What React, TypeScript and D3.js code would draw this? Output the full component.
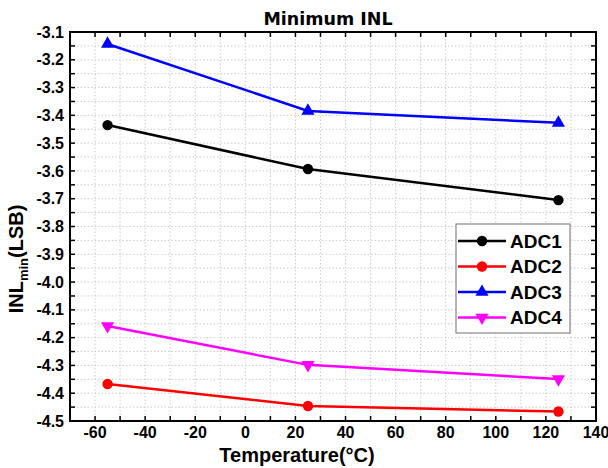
import React, { useEffect, useRef } from 'react';
import * as d3 from 'd3';

// Temperatures (°C) and minimum INL values (LSB)
const temperatures = [-55, 25, 125];
const adc1 = [-3.435, -3.593, -3.705];
const adc2 = [-4.367, -4.446, -4.466];
const adc3 = [-3.143, -3.384, -3.427];
const adc4 = [-4.158, -4.298, -4.349];

const seriesNames = ['ADC1', 'ADC2', 'ADC3', 'ADC4'];
const seriesColors = ['#000000', '#ff0000', '#0000ff', '#ff00ff'];
const seriesMarkers = ['circle', 'circle', 'triangleUp', 'triangleDown'];

const xTicks = [-60, -40, -20, 0, 20, 40, 60, 80, 100, 120, 140];
const yTicks = [-3.1, -3.2, -3.3, -3.4, -3.5, -3.6, -3.7, -3.8, -3.9, -4.0, -4.1, -4.2, -4.3, -4.4, -4.5];

const FONT = '"Liberation Sans", Arial, sans-serif';

// d3.format uses a unicode minus; the original uses a plain hyphen
const hyphen = (s: string) => s.replace('\u2212', '-');

export default function App() {
  const svgRef = useRef<SVGSVGElement>(null);

  useEffect(() => {
    if (!svgRef.current) return;
    const width = 608;
    const height = 468;
    const margin = { top: 32, right: 12, bottom: 47, left: 70 };
    const innerWidth = width - margin.left - margin.right;
    const innerHeight = height - margin.top - margin.bottom;

    const svg = d3.select(svgRef.current);
    svg.selectAll('*').remove();

    const g = svg.append('g').attr('transform', `translate(${margin.left},${margin.top})`);

    const xScale = d3.scaleLinear().domain([-70, 140]).range([0, innerWidth]);
    const yScale = d3.scaleLinear().domain([-4.5, -3.1]).range([innerHeight, 0]);

    // Dotted grid
    const xGrid = d3.range(-60, 140, 10);
    const yGrid = d3.range(0, 28).map(i => -3.1 - (i + 1) * 0.05).filter(v => v > -4.49);
    g.append('g').selectAll('line').data(xGrid).enter().append('line')
      .attr('x1', d => xScale(d)).attr('x2', d => xScale(d))
      .attr('y1', 0).attr('y2', innerHeight)
      .attr('stroke', '#cccccc').attr('stroke-width', 1).attr('stroke-dasharray', '1.5,2');
    g.append('g').selectAll('line').data(yGrid).enter().append('line')
      .attr('x1', 0).attr('x2', innerWidth)
      .attr('y1', d => yScale(d)).attr('y2', d => yScale(d))
      .attr('stroke', '#cccccc').attr('stroke-width', 1).attr('stroke-dasharray', '1.5,2');

    // Inward ticks on all four sides
    const tickX = d3.range(-60, 140, 10);
    const tickY = d3.range(1, 28).map(i => -3.1 - i * 0.05);
    const tl = 5;
    const ticks = g.append('g').attr('stroke', '#000').attr('stroke-width', 1.5);
    tickX.forEach(v => {
      ticks.append('line').attr('x1', xScale(v)).attr('x2', xScale(v)).attr('y1', innerHeight).attr('y2', innerHeight - tl);
      ticks.append('line').attr('x1', xScale(v)).attr('x2', xScale(v)).attr('y1', 0).attr('y2', tl);
    });
    tickY.forEach(v => {
      ticks.append('line').attr('x1', 0).attr('x2', tl).attr('y1', yScale(v)).attr('y2', yScale(v));
      ticks.append('line').attr('x1', innerWidth).attr('x2', innerWidth - tl).attr('y1', yScale(v)).attr('y2', yScale(v));
    });

    // Frame
    g.append('rect')
      .attr('x', 0).attr('y', 0).attr('width', innerWidth).attr('height', innerHeight)
      .attr('fill', 'none').attr('stroke', '#000').attr('stroke-width', 2);

    // Tick labels
    g.append('g').selectAll('text').data(xTicks).enter().append('text')
      .attr('x', d => xScale(d)).attr('y', innerHeight + 17)
      .attr('text-anchor', 'middle')
      .style('font-family', FONT).style('font-size', '16px').style('font-weight', 'bold')
      .text(d => hyphen(d3.format('d')(d)));
    g.append('g').selectAll('text').data(yTicks).enter().append('text')
      .attr('x', -6).attr('y', d => yScale(d)).attr('dy', '0.35em')
      .attr('text-anchor', 'end')
      .style('font-family', FONT).style('font-size', '16px').style('font-weight', 'bold')
      .text(d => hyphen(d3.format('.1f')(d)));

    // Axis titles
    svg.append('text')
      .attr('x', 297).attr('y', 462)
      .attr('text-anchor', 'middle')
      .style('font-family', FONT).style('font-size', '20px').style('font-weight', 'bold')
      .text('Temperature(°C)');

    const yl = svg.append('text')
      .attr('transform', 'translate(23,259) rotate(-90)')
      .attr('text-anchor', 'middle')
      .style('font-family', FONT).style('font-size', '20px').style('font-weight', 'bold');
    yl.append('tspan').text('INL');
    yl.append('tspan').attr('dy', 5).style('font-size', '13px').text('min');
    yl.append('tspan').attr('dy', -5).text('(LSB)');

    // Title
    svg.append('text')
      .attr('x', 328).attr('y', 25)
      .attr('text-anchor', 'middle')
      .style('font-family', '"DejaVu Sans", sans-serif').style('font-size', '17.5px').style('font-weight', 'bold')
      .text('Minimum INL');

    const allSeries = [adc1, adc2, adc3, adc4];
    const line = d3.line<number>()
      .x((_d, i) => xScale(temperatures[i]))
      .y(d => yScale(d));

    const markerPath = (type: string) => {
      if (type === 'circle') return d3.symbol(d3.symbolCircle, 85)();
      return d3.symbol(d3.symbolTriangle, 75)();
    };

    allSeries.forEach((vals, si) => {
      g.append('path')
        .datum(vals)
        .attr('d', line)
        .attr('fill', 'none')
        .attr('stroke', seriesColors[si])
        .attr('stroke-width', 2.5);
      g.append('g').selectAll('path').data(vals).enter().append('path')
        .attr('d', markerPath(seriesMarkers[si]))
        .attr('transform', (d, i) => `translate(${xScale(temperatures[i])},${yScale(d)})${seriesMarkers[si] === 'triangleDown' ? ' rotate(180)' : ''}`)
        .attr('fill', seriesColors[si]);
    });

    // Legend
    const legend = svg.append('g').attr('transform', 'translate(456,224)');
    legend.append('rect')
      .attr('width', 114).attr('height', 109)
      .attr('fill', '#fff').attr('stroke', '#888').attr('stroke-width', 1.2);
    seriesNames.forEach((name, i) => {
      const y = 17 + i * 25.5;
      const row = legend.append('g').attr('transform', `translate(0,${y})`);
      row.append('line')
        .attr('x1', 2).attr('x2', 50).attr('y1', 0).attr('y2', 0)
        .attr('stroke', seriesColors[i]).attr('stroke-width', 2.5);
      row.append('path')
        .attr('d', markerPath(seriesMarkers[i]))
        .attr('transform', `translate(26,0)${seriesMarkers[i] === 'triangleDown' ? ' rotate(180)' : ''}`)
        .attr('fill', seriesColors[i]);
      row.append('text')
        .attr('x', 54).attr('y', 0).attr('dy', '0.36em')
        .style('font-family', FONT).style('font-size', '19px').style('font-weight', 'bold')
        .text(name);
    });
  }, []);

  return (
    <svg ref={svgRef} width={608} height={468} style={{ position: 'absolute', left: 0, top: 0, background: '#fff' }} />
  );
}
